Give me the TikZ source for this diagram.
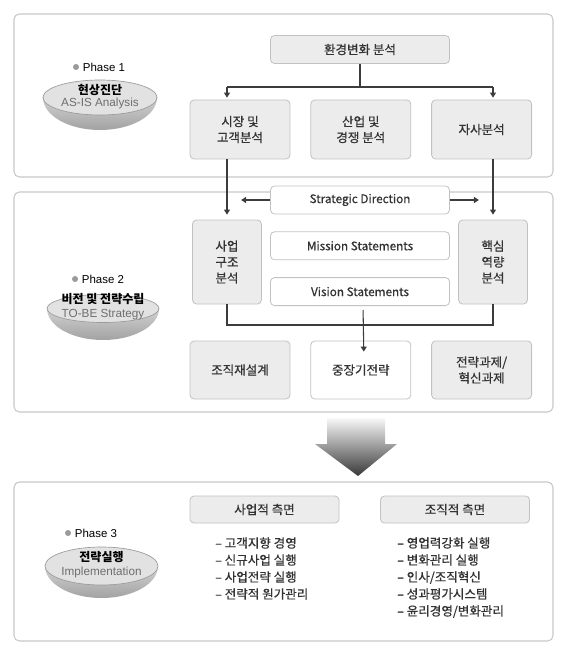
\documentclass[tikz,border=0pt]{standalone}
\usepackage{fontspec}
\setmainfont{Noto Sans CJK KR}
\newfontfamily\krheavy{Noto Sans CJK KR}[FakeBold=0.6]
\newfontfamily\arial{Liberation Sans}
\usepackage{tikz}
\usetikzlibrary{positioning, arrows.meta, calc}
\definecolor{boxFill}{HTML}{ECECEC}
\definecolor{boxLine}{HTML}{C2C2C2}
\definecolor{panelLine}{HTML}{C8C8C8}
\definecolor{txt}{HTML}{333333}
\definecolor{lineGray}{HTML}{3C3C3C}
\definecolor{dishFace}{HTML}{E2E2E2}
\definecolor{dishRim}{HTML}{9A9A9A}
\definecolor{dishTop}{HTML}{D2D2D2}
\definecolor{dishBot}{HTML}{A2A2A2}
\definecolor{subTxt}{HTML}{6E6E6E}
\definecolor{dotGray}{HTML}{9A9A9A}
\definecolor{arrTop}{HTML}{F8F8F8}
\definecolor{arrBot}{HTML}{383838}
\newcommand{\dish}[5]{\shade[top color=dishTop, bottom color=dishBot] ({#1-#3},#2) arc[start angle=180, end angle=360, x radius=#3, y radius=#5] -- cycle;
\draw[draw=dishRim, fill=dishFace, line width=0.5pt] (#1,#2) ellipse[x radius=#3, y radius=#4];}

\begin{document}
\begin{tikzpicture}[x=0.75pt, y=0.75pt, panel/.style={draw=panelLine, line width=0.8pt, fill=white, rounded corners=4pt}, box/.style={draw=boxLine, fill=boxFill, line width=0.6pt, rounded corners=3pt, minimum width=75pt, minimum height=44.25pt, inner sep=1pt, align=center, text=txt, font=\krheavy\fontsize{9.4}{12}\selectfont}, wbox/.style={box, fill=white}, bar/.style={wbox, minimum width=134.25pt, minimum height=21pt}, eng/.style={bar, font=\krheavy\fontsize{8.8}{12}\selectfont}, tall/.style={box, minimum width=51.75pt, minimum height=63pt}, aspect/.style={box, minimum width=111.75pt, minimum height=20.25pt}, list/.style={anchor=north west, inner sep=0pt, align=left, text=txt, font=\krheavy\fontsize{9.4}{12.75}\selectfont}, phase/.style={inner sep=0pt, font=\arial\fontsize{8.6}{10}\selectfont}, ttl/.style={inner sep=0pt, font=\bfseries\fontsize{9}{10}\selectfont}, sub/.style={inner sep=0pt, text=subTxt, font=\arial\fontsize{8.8}{10}\selectfont}, wire/.style={draw=lineGray, line width=0.8pt}, arr/.style={wire, -{Triangle[length=3.75pt, width=4.5pt]}}]
\useasboundingbox (0,0) rectangle (568,-656);
\draw[panel] (14,-14) rectangle (553,-177);
\draw[panel] (14,-192) rectangle (553,-412);
\draw[panel] (14,-482) rectangle (553,-641);
\dish{100}{-97.5}{57}{17.5}{32.5}
\dish{103}{-308.5}{56}{14}{31.5}
\dish{101.5}{-566}{56.5}{19}{32}
\node[phase] (ph1) at (104,-67) {Phase 1};
\node[ttl] (t1) at (100,-90) {현상진단};
\node[sub] (s1) at (100,-103.5) {AS-IS Analysis};
\node[phase] (ph2) at (103,-279) {Phase 2};
\node[ttl] (t2) at (103,-299.5) {비전 및 전략수립};
\node[sub] (s2) at (103,-315) {TO-BE Strategy};
\node[phase] (ph3) at (96,-533) {Phase 3};
\node[ttl] (t3) at (101.5,-557) {전략실행};
\node[sub] (s3) at (101.5,-572) {Implementation};
\foreach \p in {ph1, ph2, ph3} \fill[dotGray] ([xshift=-5pt]\p.west) circle (3);
\node[bar, fill=boxFill] (env) at (360,-49.5) {환경변화 분석};
\node[box] (mkt) at (240,-129.5) {시장 및\\고객분석};
\node[box, right=15pt of mkt] (ind) {산업 및\\경쟁 분석};
\node[box, right=15pt of ind] (own) {자사분석};
\node[eng] (sd) at (360,-200) {Strategic Direction};
\node[eng, below=12.75pt of sd] (mis) {Mission Statements};
\node[eng, below=12.75pt of mis] (vis) {Vision Statements};
\node[tall] (biz) at (227,-262) {사업\\구조\\분석};
\node[tall] (core) at (493,-262) {핵심\\역량\\분석};
\node[box, minimum height=43.5pt] (org) at (240,-370) {조직재설계};
\node[wbox, minimum height=43.5pt, right=15pt of org] (mid) {중장기전략};
\node[box, minimum height=43.5pt, right=15pt of mid] (task) {전략과제/\\혁신과제};
\shade[top color=arrTop, bottom color=arrBot] (327,-418) -- (385,-418) -- (385,-444) -- (397,-444) -- (358,-476) -- (315,-444) -- (327,-444) -- cycle;
\node[aspect] (bizAsp) at (264.5,-509.5) {사업적 측면};
\node[aspect] (orgAsp) at (455,-509.5) {조직적 측면};
\node[list] (bizList) at (215,-537) {– 고객지향 경영\\– 신규사업 실행\\– 사업전략 실행\\– 전략적 원가관리};
\node[list] (orgList) at (397,-537) {– 영업력강화 실행\\– 변화관리 실행\\– 인사/조직혁신\\– 성과평가시스템\\– 윤리경영/변화관리};
\coordinate (jL) at (227,-87);
\coordinate (jR) at (493,-87);
\coordinate (jB) at (360,-325);
\draw[wire] (env.south) -- (env.south |- jL);
\draw[wire] (jL) -- (jR);
\draw[arr] (jL) -- ([yshift=1.5pt]jL |- mkt.north);
\draw[arr] (jR) -- ([yshift=1.5pt]jR |- own.north);
\draw[arr] (jL |- mkt.south) -- ([yshift=3.75pt]biz.north);
\draw[arr] (jR |- own.south) -- ([yshift=3.75pt]core.north);
\draw[arr] (sd.west) -- ++(-29,0);
\draw[arr] (sd.east) -- ++(29,0);
\draw[wire] (biz.south) |- (jB) -| (core.south);
\draw[arr, shorten <=3pt] ([xshift=2.25pt]vis.south) -- ([xshift=2.25pt, yshift=-8.25pt]mid.north);
\end{tikzpicture}
\end{document}
